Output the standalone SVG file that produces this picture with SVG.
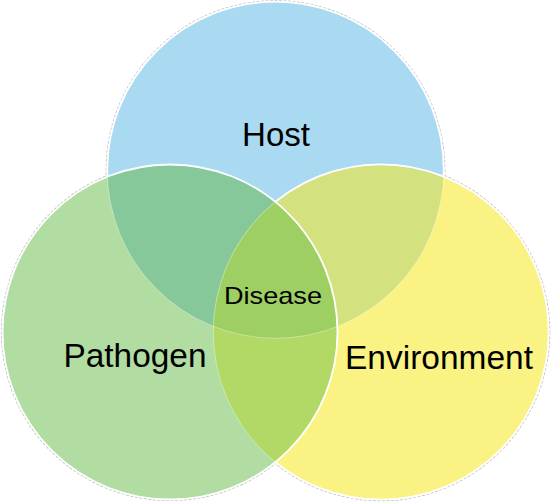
<svg xmlns="http://www.w3.org/2000/svg" width="557" height="502" viewBox="0 0 557 502">
  <style>
    .lbl { font-family: "Liberation Sans", Arial, sans-serif; fill: #000; text-anchor: middle; }
    .big { font-size: 33px; }
    .small { font-size: 24px; }
    .outline { fill: none; stroke: #c4c4c4; stroke-width: 1.2; stroke-dasharray: 3 1.5; }
    .strong { fill: none; stroke: #fff; stroke-width: 1.8; }
    .faint { fill: none; stroke: #fff; stroke-opacity: 0.35; stroke-width: 1; }
  </style>
  <defs>
    <clipPath id="cHost"><circle cx="275.5" cy="170" r="168.3"/></clipPath>
    <clipPath id="cPath"><circle cx="170" cy="332" r="167.5"/></clipPath>
    <clipPath id="cEnv"><circle cx="381" cy="332" r="167.7"/></clipPath>
    <mask id="mOutPath">
      <rect width="557" height="502" fill="#fff"/>
      <circle cx="170" cy="332" r="167" fill="#000"/>
    </mask>
    <mask id="mOutPE">
      <rect width="557" height="502" fill="#fff"/>
      <circle cx="170" cy="332" r="167" fill="#000"/>
      <circle cx="381" cy="332" r="167.2" fill="#000"/>
    </mask>
  </defs>
  <rect width="557" height="502" fill="#fff"/>

  <!-- outer grey edges -->
  <circle class="outline" cx="275.5" cy="170" r="169.3"/>
  <circle class="outline" cx="170" cy="332" r="168.5"/>
  <circle class="outline" cx="381" cy="332" r="168.7"/>

  <g id="host">
    <circle cx="275.5" cy="170" r="168.3" fill="#AADAF1"/>
  </g>
  <g id="environment">
    <circle cx="381" cy="332" r="167.7" fill="#FAF383"/>
  </g>
  <g id="pathogen">
    <circle cx="170" cy="332" r="167.5" fill="#B1DDA3"/>
  </g>

  <g id="overlaps">
    <g clip-path="url(#cHost)">
      <circle cx="170" cy="332" r="167.5" fill="#86C899"/>
      <circle cx="381" cy="332" r="167.7" fill="#D3E17F"/>
    </g>
    <g clip-path="url(#cPath)">
      <circle cx="381" cy="332" r="167.7" fill="#B2D865"/>
    </g>
    <g clip-path="url(#cHost)">
      <g clip-path="url(#cPath)">
        <circle cx="381" cy="332" r="167.7" fill="#9DCF63"/>
      </g>
    </g>
  </g>

  <g id="edges">
    <circle class="faint" cx="275.5" cy="170" r="168.3"/>
    <circle class="faint" cx="381" cy="332" r="167.7"/>
    <circle class="strong" cx="275.5" cy="170" r="168.3" mask="url(#mOutPE)"/>
    <circle class="strong" cx="381" cy="332" r="167.7" mask="url(#mOutPath)"/>
    <circle class="strong" cx="170" cy="332" r="167.5"/>
  </g>

  <g id="labels">
    <text class="lbl big" x="276" y="146" textLength="68" lengthAdjust="spacingAndGlyphs">Host</text>
    <text class="lbl big" x="135" y="367" textLength="143" lengthAdjust="spacingAndGlyphs">Pathogen</text>
    <text class="lbl big" x="439" y="369" textLength="188" lengthAdjust="spacingAndGlyphs">Environment</text>
    <text class="lbl small" x="273" y="303.5" textLength="98" lengthAdjust="spacingAndGlyphs">Disease</text>
  </g>
</svg>
